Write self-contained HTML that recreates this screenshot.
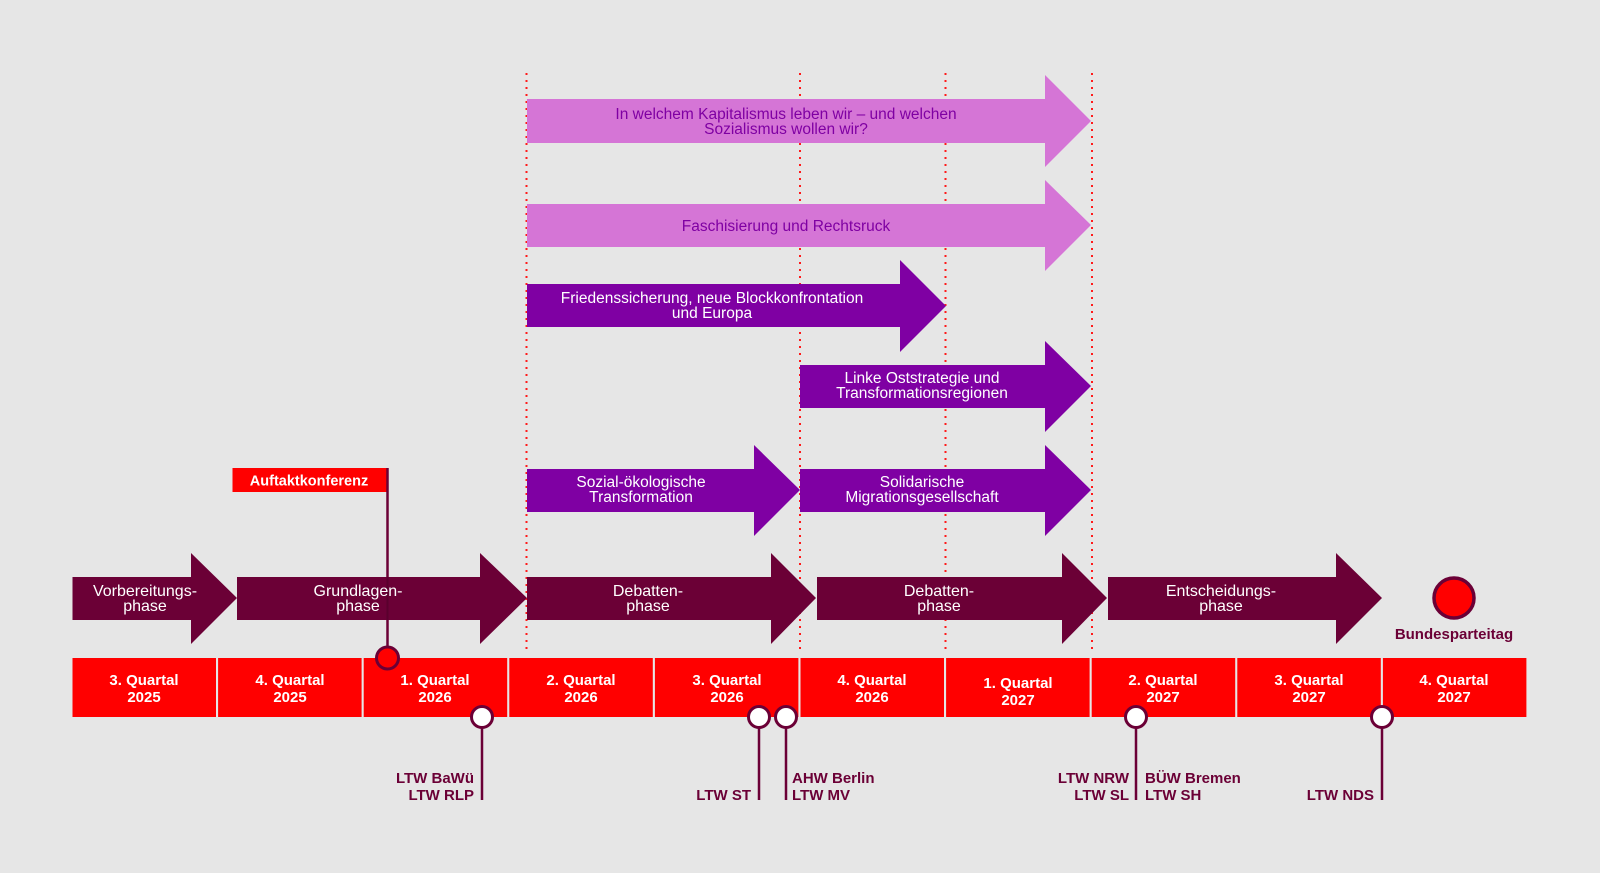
<!DOCTYPE html>
<html><head><meta charset="utf-8"><style>
html,body{margin:0;padding:0;background:#e6e6e6;}
svg{display:block;}
.q{font-family:"Liberation Sans",sans-serif;font-weight:bold;font-size:15px;fill:#fff;text-anchor:middle;}
.ph{font-family:"Liberation Sans",sans-serif;font-size:16px;fill:#fff;text-anchor:middle;}
.tp{font-family:"Liberation Sans",sans-serif;font-size:15.5px;text-anchor:middle;}
.lb{font-family:"Liberation Sans",sans-serif;font-weight:bold;font-size:15px;fill:#6b0036;}
</style></head><body>
<svg width="1600" height="873" viewBox="0 0 1600 873" xmlns="http://www.w3.org/2000/svg">
<rect width="1600" height="873" fill="#e6e6e6"/>
<!-- dotted lines -->
<g stroke="#ff1a1a" stroke-width="2" stroke-dasharray="2,5">
<line x1="526.5" y1="73" x2="526.5" y2="653"/>
<line x1="800" y1="73" x2="800" y2="653"/>
<line x1="945.5" y1="73" x2="945.5" y2="653"/>
<line x1="1092" y1="73" x2="1092" y2="653"/>
</g>
<!-- top arrows -->
<polygon points="527,99 1045,99 1045,75 1091,121 1045,167 1045,143 527,143" fill="#d575d6"/>
<text class="tp" fill="#7f00a3" x="786" y="119">In welchem Kapitalismus leben wir – und welchen</text>
<text class="tp" fill="#7f00a3" x="786" y="134">Sozialismus wollen wir?</text>
<polygon points="527,204 1045,204 1045,180 1091,225 1045,271 1045,247 527,247" fill="#d575d6"/>
<text class="tp" fill="#7f00a3" x="786" y="231">Faschisierung und Rechtsruck</text>
<polygon points="527,284 900,284 900,260 946,306 900,352 900,327 527,327" fill="#7f00a3"/>
<text class="tp" fill="#fff" x="712" y="303">Friedenssicherung, neue Blockkonfrontation</text>
<text class="tp" fill="#fff" x="712" y="318">und Europa</text>
<polygon points="800,365 1045,365 1045,341 1091,386 1045,432 1045,408 800,408" fill="#7f00a3"/>
<text class="tp" fill="#fff" x="922" y="383">Linke Oststrategie und</text>
<text class="tp" fill="#fff" x="922" y="398">Transformationsregionen</text>
<polygon points="527,469 754,469 754,445 800,490 754,536 754,512 527,512" fill="#7f00a3"/>
<text class="tp" fill="#fff" x="641" y="487">Sozial-ökologische</text>
<text class="tp" fill="#fff" x="641" y="502">Transformation</text>
<polygon points="800,469 1045,469 1045,445 1091,490 1045,536 1045,512 800,512" fill="#7f00a3"/>
<text class="tp" fill="#fff" x="922" y="487">Solidarische</text>
<text class="tp" fill="#fff" x="922" y="502">Migrationsgesellschaft</text>
<!-- Auftakt -->
<rect x="232.5" y="468" width="155" height="24" fill="#ff0000"/>
<text x="309" y="485.5" class="q" style="font-size:14.5px">Auftaktkonferenz</text>
<line x1="387.5" y1="468" x2="387.5" y2="658" stroke="#6b0036" stroke-width="2.5"/>
<!-- phase arrows -->
<g fill="#6b0036">
<polygon points="72.5,577 191,577 191,553 237,598 191,644 191,620 72.5,620"/>
<polygon points="237,577 480,577 480,553 527,598 480,644 480,620 237,620"/>
<polygon points="527,577 771,577 771,553 816,598 771,644 771,620 527,620"/>
<polygon points="817,577 1062,577 1062,553 1107,598 1062,644 1062,620 817,620"/>
<polygon points="1108,577 1336,577 1336,553 1382,598 1336,644 1336,620 1108,620"/>
</g>
<line x1="387.5" y1="577" x2="387.5" y2="620" stroke="#5a002d" stroke-width="2"/>
<text class="ph" x="145" y="596">Vorbereitungs-</text><text class="ph" x="145" y="611">phase</text>
<text class="ph" x="358" y="596">Grundlagen-</text><text class="ph" x="358" y="611">phase</text>
<text class="ph" x="648" y="596">Debatten-</text><text class="ph" x="648" y="611">phase</text>
<text class="ph" x="939" y="596">Debatten-</text><text class="ph" x="939" y="611">phase</text>
<text class="ph" x="1221" y="596">Entscheidungs-</text><text class="ph" x="1221" y="611">phase</text>
<!-- quarter boxes -->
<g fill="#ff0000">
<rect x="72.5" y="658" width="143.5" height="59"/>
<rect x="218.1" y="658" width="143.5" height="59"/>
<rect x="363.7" y="658" width="143.5" height="59"/>
<rect x="509.3" y="658" width="143.5" height="59"/>
<rect x="654.9" y="658" width="143.5" height="59"/>
<rect x="800.5" y="658" width="143.5" height="59"/>
<rect x="946.1" y="658" width="143.5" height="59"/>
<rect x="1091.7" y="658" width="143.5" height="59"/>
<rect x="1237.3" y="658" width="143.5" height="59"/>
<rect x="1382.9" y="658" width="143.5" height="59"/>
</g>
<g class="q">
<text x="144" y="685">3. Quartal</text><text x="144" y="702">2025</text>
<text x="290" y="685">4. Quartal</text><text x="290" y="702">2025</text>
<text x="435" y="685">1. Quartal</text><text x="435" y="702">2026</text>
<text x="581" y="685">2. Quartal</text><text x="581" y="702">2026</text>
<text x="727" y="685">3. Quartal</text><text x="727" y="702">2026</text>
<text x="872" y="685">4. Quartal</text><text x="872" y="702">2026</text>
<text x="1018" y="688">1. Quartal</text><text x="1018" y="705">2027</text>
<text x="1163" y="685">2. Quartal</text><text x="1163" y="702">2027</text>
<text x="1309" y="685">3. Quartal</text><text x="1309" y="702">2027</text>
<text x="1454" y="685">4. Quartal</text><text x="1454" y="702">2027</text>
</g>
<circle cx="387.5" cy="658" r="11" fill="#ff0000" stroke="#6b0036" stroke-width="3"/>
<!-- bottom markers -->
<g stroke="#6b0036" stroke-width="2.5">
<line x1="482" y1="717" x2="482" y2="800"/>
<line x1="759" y1="717" x2="759" y2="800"/>
<line x1="786" y1="717" x2="786" y2="800"/>
<line x1="1136" y1="717" x2="1136" y2="800"/>
<line x1="1382" y1="717" x2="1382" y2="800"/>
</g>
<g fill="#fff" stroke="#6b0036" stroke-width="3">
<circle cx="482" cy="717" r="10.5"/>
<circle cx="759" cy="717" r="10.5"/>
<circle cx="786" cy="717" r="10.5"/>
<circle cx="1136" cy="717" r="10.5"/>
<circle cx="1382" cy="717" r="10.5"/>
</g>
<text class="lb" x="474" y="783" text-anchor="end">LTW BaWü</text>
<text class="lb" x="474" y="800" text-anchor="end">LTW RLP</text>
<text class="lb" x="751" y="800" text-anchor="end">LTW ST</text>
<text class="lb" x="792" y="783">AHW Berlin</text>
<text class="lb" x="792" y="800">LTW MV</text>
<text class="lb" x="1129" y="783" text-anchor="end">LTW NRW</text>
<text class="lb" x="1129" y="800" text-anchor="end">LTW SL</text>
<text class="lb" x="1145" y="783">BÜW Bremen</text>
<text class="lb" x="1145" y="800">LTW SH</text>
<text class="lb" x="1374" y="800" text-anchor="end">LTW NDS</text>
<!-- Bundesparteitag -->
<circle cx="1454" cy="598" r="20" fill="#ff0000" stroke="#6b0036" stroke-width="3.5"/>
<text class="lb" x="1454" y="639" text-anchor="middle">Bundesparteitag</text>
</svg>
</body></html>
